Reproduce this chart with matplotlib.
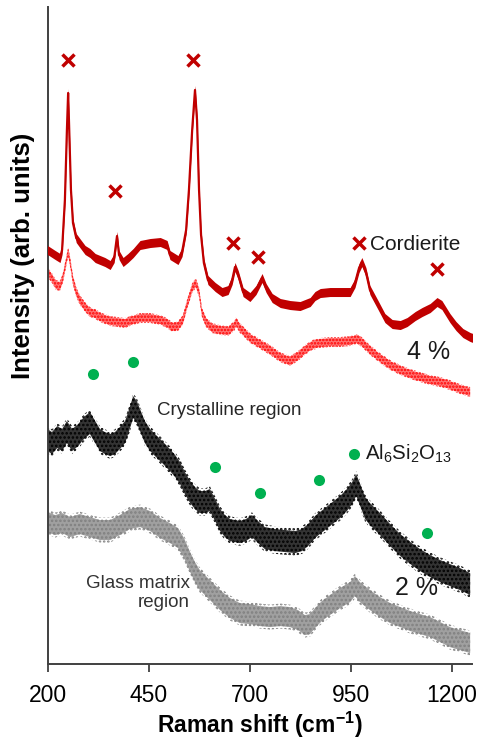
import matplotlib
matplotlib.use("Agg")
import matplotlib.pyplot as plt
import numpy as np

plt.rcParams['font.family'] = ['Liberation Sans', 'DejaVu Sans']
plt.rcParams['mathtext.fontset'] = 'custom'
plt.rcParams['mathtext.rm'] = 'Liberation Sans'
plt.rcParams['mathtext.bf'] = 'Liberation Sans:bold'
plt.rcParams['mathtext.default'] = 'regular'
plt.rcParams['hatch.linewidth'] = 1.2

# ---- spectra (Raman shift in cm^-1, intensity in arbitrary units, offset stacked) ----
shift_cord = [200, 219, 231, 236, 243, 248, 251, 253, 258, 263, 271, 280, 293, 305, 318,
              330, 342, 355, 365, 372, 377, 387, 399, 412, 429, 454, 479, 496, 503, 523,
              533, 543, 550, 558, 565, 570, 575, 580, 587, 597, 615, 632, 647, 657, 664,
              672, 684, 701, 716, 731, 741, 756, 776, 800, 825, 850, 862, 875, 899, 924,
              949, 961, 971, 978, 988, 998, 1018, 1035, 1053, 1073, 1090, 1110, 1127,
              1147, 1164, 1176, 1196, 1211, 1228, 1246, 1253]
int_cord = [414, 409, 406, 414, 464, 534, 571, 544, 474, 441, 426, 421, 414, 411, 406,
            404, 402, 399, 406, 428, 409, 402, 406, 411, 419, 421, 422, 419, 409, 404,
            412, 434, 474, 534, 574, 544, 474, 429, 401, 384, 377, 372, 374, 384, 397,
            389, 372, 367, 374, 386, 376, 366, 361, 359, 358, 362, 368, 371, 372, 372,
            372, 381, 396, 402, 392, 374, 359, 346, 340, 339, 342, 348, 352, 356, 362,
            359, 346, 338, 331, 327, 326]

shift_4pct = [200, 211, 221, 231, 238, 246, 251, 256, 263, 271, 280, 293, 305, 318, 330,
              342, 355, 374, 392, 404, 429, 454, 479, 496, 508, 523, 535, 545, 558, 567,
              575, 582, 592, 607, 627, 647, 662, 667, 676, 689, 701, 726, 751, 775, 800,
              820, 837, 855, 874, 899, 924, 949, 966, 978, 998, 1023, 1048, 1073, 1098,
              1122, 1147, 1172, 1196, 1221, 1246]
int_4pct = [392, 386, 379, 378, 386, 402, 412, 402, 384, 372, 364, 357, 352, 350, 347,
            345, 343, 342, 341, 343, 346, 346, 344, 341, 337, 338, 344, 359, 376, 381,
            372, 352, 342, 336, 334, 333, 338, 342, 336, 331, 326, 320, 314, 307, 303,
            308, 314, 319, 321, 322, 322, 323, 325, 322, 314, 306, 299, 294, 290, 287,
            284, 282, 279, 275, 272]

shift_cryst = [200, 211, 224, 236, 248, 261, 276, 290, 305, 318, 330, 342, 355, 367, 379,
               392, 402, 412, 421, 429, 441, 454, 466, 479, 491, 503, 516, 528, 540, 553,
               565, 577, 590, 602, 615, 627, 639, 652, 676, 691, 706, 721, 738, 763, 788,
               813, 830, 845, 862, 874, 887, 899, 924, 941, 954, 964, 973, 986, 998, 1023,
               1048, 1073, 1098, 1122, 1147, 1172, 1196, 1221, 1246]
int_cryst = [224, 221, 227, 224, 232, 224, 229, 236, 241, 232, 224, 221, 219, 221, 226,
             232, 244, 257, 252, 244, 232, 224, 219, 214, 209, 204, 198, 191, 181, 172,
             166, 162, 162, 164, 154, 144, 138, 134, 132, 134, 138, 132, 126, 124, 123,
             122, 124, 129, 137, 141, 145, 149, 157, 164, 171, 179, 170, 156, 150, 140,
             129, 119, 111, 104, 98, 93, 89, 85, 80]

shift_glass = [200, 219, 236, 256, 280, 305, 330, 355, 379, 404, 429, 454, 479, 503, 523,
               538, 553, 565, 577, 602, 627, 652, 676, 701, 726, 751, 776, 800, 820, 837,
               850, 862, 879, 899, 924, 949, 961, 973, 998, 1023, 1048, 1073, 1098, 1122,
               1147, 1172, 1196, 1221, 1246]
int_glass = [142, 139, 141, 137, 140, 137, 134, 134, 139, 145, 147, 143, 136, 131, 126,
             116, 102, 92, 84, 74, 64, 56, 51, 50, 48, 47, 48, 47, 44, 39,
             40, 46, 53, 59, 66, 72, 78, 72, 64, 57, 51, 47, 43, 40, 37,
             32, 27, 24, 21]

# ---- reference band positions ----
cord_peaks = [251, 367, 560, 659, 721, 971, 1164]
cord_marks = [604, 473, 604, 421, 407, 421, 395]
mullite_peaks = [312, 412, 615, 726, 872, 959, 1139]
mullite_marks = [290, 302, 197, 171, 184, 210, 131]

x_ticks = [200, 450, 700, 950, 1200]

fig = plt.figure(figsize=(4.81, 7.42), dpi=100)
ax = fig.add_axes([0.0988, 0.105, 0.882, 0.8856])


def noisy_band(x, y, half, color, alpha, hatch=None):
    x = np.asarray(x, float)
    y = np.asarray(y, float)
    ax.fill_between(x, y - half, y + half, facecolor=color, alpha=alpha,
                    edgecolor='none', lw=0, zorder=2)
    if hatch:
        ax.fill_between(x, y - half * 1.25, y + half * 1.25, facecolor='none',
                        edgecolor=color, hatch=hatch, lw=0, zorder=2)


# gray: glass matrix, 2 %
noisy_band(shift_glass, int_glass, 10, '#808080', 0.75, hatch='....')
# black: crystalline region, 2 %
noisy_band(shift_cryst, int_cryst, 11, '#000000', 0.8, hatch='....')
# red dotted: 4 %
noisy_band(shift_4pct, int_4pct, 4, '#ff0000', 0.55, hatch='.....')
# dark red: cordierite reference
ax.fill_between(shift_cord, np.array(int_cord) - 4.5, np.array(int_cord) + 4.5,
                color='#c00000', lw=0, zorder=3)
ax.plot(shift_cord, int_cord, color='#c00000', lw=1.6, zorder=3)

ax.plot(cord_peaks, cord_marks, ls='none', marker='x', color='#c00000',
        markersize=8.5, markeredgewidth=2.5, zorder=4)
ax.plot(mullite_peaks, mullite_marks, ls='none', marker='o', color='#00b050',
        markersize=8, markeredgewidth=0, zorder=4)

ax.text(998, 420, 'Cordierite', fontsize=15, va='center', ha='left', color='#1a1a1a')
ax.text(1142, 312, '4 %', fontsize=18, va='center', ha='center', color='#1a1a1a')
ax.text(471, 254, 'Crystalline region', fontsize=13.5, va='center', ha='left',
        color='#262626')
ax.text(986, 210, 'Al$_6$Si$_2$O$_{13}$', fontsize=14.7, va='center', ha='left',
        color='#1a1a1a')
ax.text(553, 71, 'Glass matrix\nregion', fontsize=13.5, va='center', ha='right',
        multialignment='right', color='#333333', linespacing=1.15)
ax.text(1112, 76, '2 %', fontsize=18, va='center', ha='center', color='#1a1a1a')

ax.set_xlim(200, 1250)
ax.set_ylim(0, 657)
ax.set_xticks(x_ticks)
ax.set_xticklabels([str(t) for t in x_ticks])
ax.set_yticks([])
ax.tick_params(axis='x', direction='out', length=6, width=1.3, labelsize=16.5,
               pad=8, color='#404040')
for side in ('top', 'right'):
    ax.spines[side].set_visible(False)
for side in ('left', 'bottom'):
    ax.spines[side].set_linewidth(1.4)
    ax.spines[side].set_color('#404040')

ax.set_xlabel(r'Raman shift (cm$\mathbf{^{-1}}$)', fontsize=16.5, fontweight='bold')
ax.set_ylabel('Intensity (arb. units)', fontsize=18.5, fontweight='bold')
ax.yaxis.set_label_coords(-0.029, 0.621)
ax.xaxis.set_label_coords(0.5, -0.069)

fig.savefig('out.png', dpi=100)
